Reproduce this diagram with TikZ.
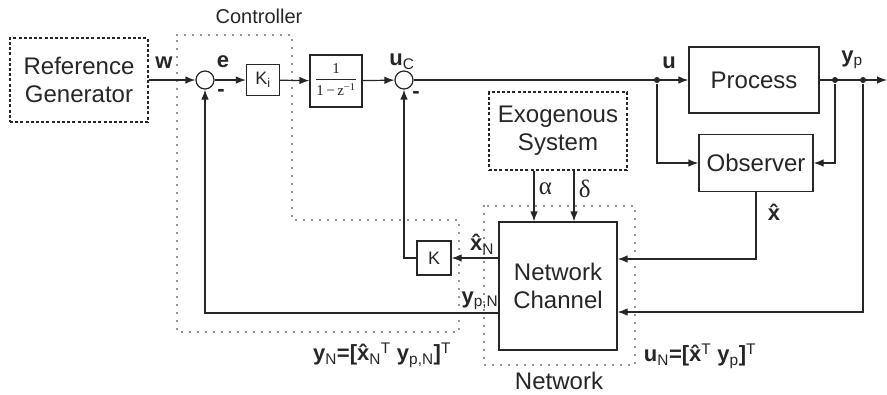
\documentclass[tikz,border=0pt]{standalone}
\usepackage{fontspec}
\setmainfont{Liberation Sans}
\newfontfamily\serf{Liberation Serif}
\usetikzlibrary{positioning,arrows.meta}
% hatted x: x with combining circumflex
\newcommand{\xh}{x^^^^0302}
\newcommand{\lsb}[1]{\textsubscript{\mdseries #1}}
\newcommand{\lsp}[1]{\textsuperscript{\mdseries #1}}

\begin{document}
\begin{tikzpicture}[x=1pt,y=-1pt,color=black!85,line width=1.2pt,
  >={Latex[length=10pt,width=7.5pt]},
  blk/.style={draw,align=center,inner sep=0pt,font=\fontsize{24}{28}\selectfont},
  gen/.style={blk,dash pattern=on 3pt off 2.2pt,line width=1.3pt},
  sum/.style={draw,circle,minimum size=18pt,inner sep=0pt},
  dot/.style={fill,circle,minimum size=6pt,inner sep=0pt},
  lbl/.style={inner sep=0pt,font=\fontsize{22}{26}\selectfont\bfseries},
  greek/.style={font=\fontsize{25}{30}\selectfont\serf},
  dotreg/.style={line width=1.6pt,dash pattern=on 0pt off 8pt,line cap=round}]
  \useasboundingbox (0,0) rectangle (887,394);
  % --- dotted regions: controller and network ---
  \draw[dotreg] (177,35) -- (292,35) -- (292,220) -- (459,220) -- (459,332) -- (177,332) -- cycle;
  \draw[dotreg] (484,206) rectangle (635,365);
  \node[font=\fontsize{20}{24}\selectfont] (ctrl) at (259,16) {Controller};
  \node[font=\fontsize{24}{28}\selectfont] (netw) at (559,381) {Network};
  % --- forward path ---
  \node[gen,minimum width=138pt,minimum height=84pt] (ref) at (79,80) {Reference\\Generator};
  \node[sum] (s1) at (205,80) {};
  \node[blk,minimum width=33pt,minimum height=31pt,font=\fontsize{18}{20}\selectfont] (ki) at (263,80) {K\lsb{i}};
  \node[blk,minimum width=52pt,minimum height=52pt,font=\fontsize{15}{17}\selectfont\serf] (tf) at (336,81)
    {\begin{tabular}{@{}c@{}}1\\[1pt]\hline\rule{0pt}{16pt}1\,−\,z\textsuperscript{−1}\end{tabular}};
  \node[sum] (s2) at (404,80) {};
  \node[dot] (du) at (657,80) {};
  \node[blk,minimum width=130pt,minimum height=66pt] (proc) at (754,80) {Process};
  \node[dot] (dy1) at (835,80) {};
  \node[dot] (dy2) at (863,80) {};
  \coordinate (yend) at (887,80);
  \draw[->] (ref) -- (s1);
  \draw[->] (s1) -- (ki);
  \draw[->] (ki) -- (tf);
  \draw[->] (tf) -- (s2);
  \draw[->] (s2) -- (proc);
  \draw[->] (proc) -- (yend);
  % --- observer, exogenous system, network ---
  \node[blk,minimum width=114pt,minimum height=57pt] (obs) at (756,163) {Observer};
  \node[gen,minimum width=138pt,minimum height=78pt] (exo) at (558,131) {Exogenous\\System};
  \node[blk,minimum width=118pt,minimum height=128pt] (nc) at (558,286) {Network\\Channel};
  \node[blk,minimum width=34pt,minimum height=34pt,font=\fontsize{18}{20}\selectfont] (kb) at (434,258) {K};
  \draw[->] (du) |- (obs);
  \draw[->] (dy1) |- (obs);
  \draw[->] (obs) |- ([yshift=27pt]nc.east);
  \draw[->] (dy2) |- ([yshift=-26pt]nc.east);
  \draw[->] ([xshift=-24pt]exo.south) -- ([xshift=-24pt]nc.north)
    node[pos=.35,right=1pt,greek]{α};
  \draw[->] ([xshift=16pt]exo.south) -- ([xshift=16pt]nc.north)
    node[pos=.35,right=1pt,greek]{δ};
  % --- feedback paths ---
  \draw[->] (nc.west |- kb) -- (kb);
  \draw[->] (kb) -| (s2);
  \draw[->] ([yshift=-27pt]nc.west) -| (s1);
  % --- signal labels ---
  \node[lbl] (lw) at (164,63) {w};
  \node[lbl] (le) at (223,62) {e};
  \node[lbl] (lm1) at (221,93) {-};
  \node[lbl] (luc) at (402,62) {u\lsb{C}};
  \node[lbl] (lm2) at (416,95) {-};
  \node[lbl] (lu) at (669,63) {u};
  \node[lbl] (lyp) at (852,60) {y\lsb{p}};
  \node[lbl] (lxh) at (774,212) {\xh};
  \node[lbl] (lxn) at (482,244) {\xh\lsb{N}};
  \node[lbl] (lypn) at (480,301) {y\lsb{p,N}};
  \node[lbl] (eqy) at (382,355) {y\lsb{N}=[\xh\lsb{N}\lsp{T} y\lsb{p,N}]\lsp{T}};
  \node[lbl] (equ) at (700,356) {u\lsb{N}=[\xh\lsp{T} y\lsb{p}]\lsp{T}};
\end{tikzpicture}
\end{document}
